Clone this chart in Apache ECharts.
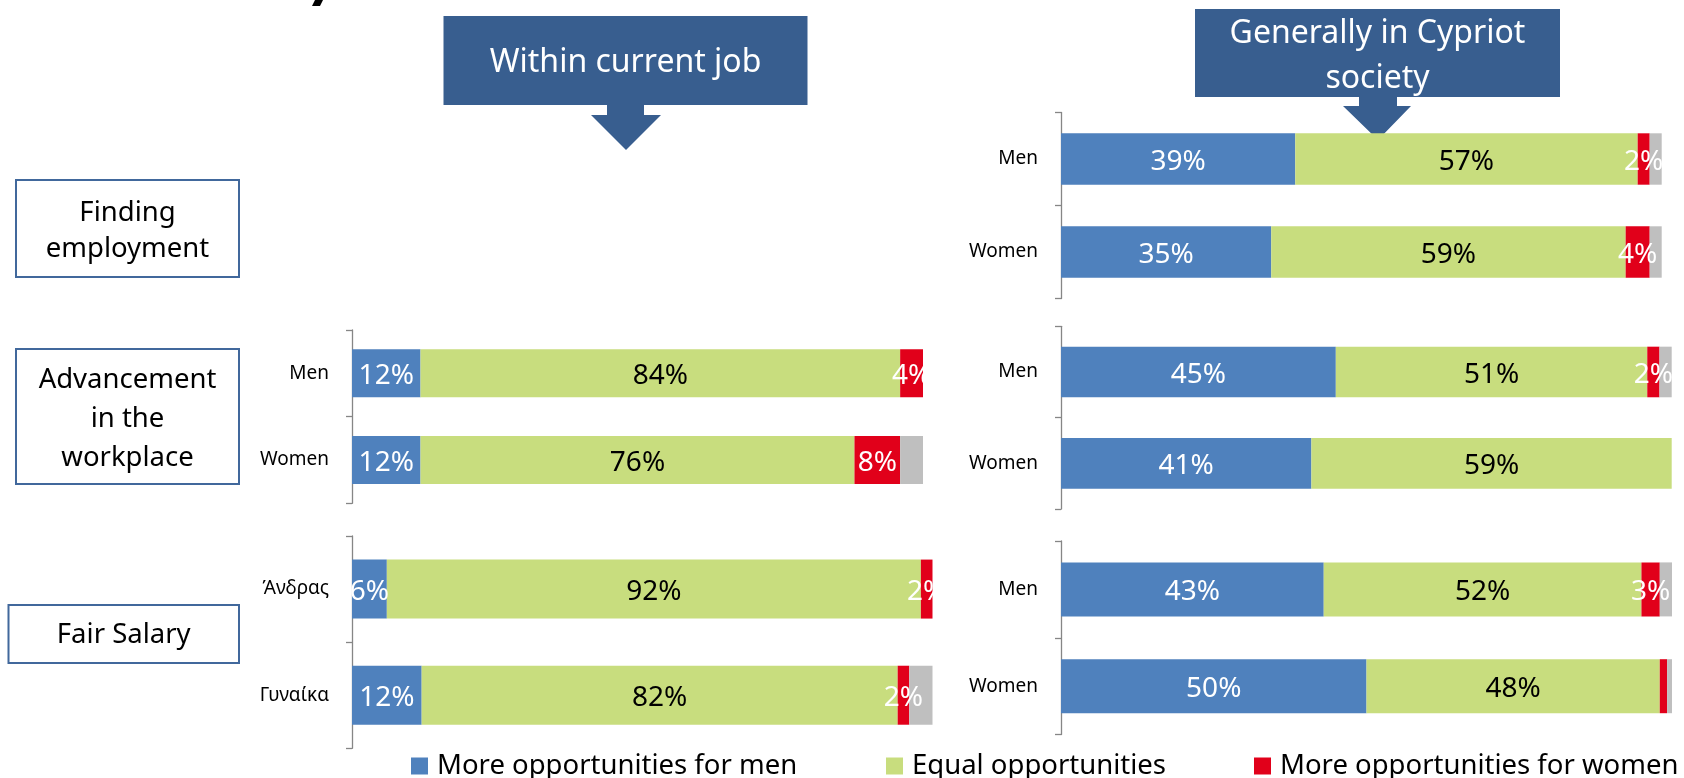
<!DOCTYPE html>
<html>
<head>
<meta charset="utf-8">
<script src="https://cdn.jsdelivr.net/npm/echarts@6/dist/echarts.min.js"></script>
<style>
  html, body { margin: 0; padding: 0; background: #fff; }
  #main { width: 1684px; height: 778px; }
</style>
</head>
<body>
<div id="main"></div>
<script>
    // categories
    const rowsEn = ['Men', 'Women'];
    const rowsGr = ['Άνδρας', 'Γυναίκα'];
    const seriesNames = ['More opportunities for men', 'Equal opportunities', 'More opportunities for women', "Don't know"];

    // within current job - advancement in the workplace
    const jobAdvMen = [12, 12];
    const jobAdvEqual = [84, 76];
    const jobAdvWomen = [4, 8];
    const jobAdvDk = [0, 4];
    // within current job - fair salary
    const jobPayMen = [6, 12];
    const jobPayEqual = [92, 82];
    const jobPayWomen = [2, 2];
    const jobPayDk = [0, 4];

    // generally in cypriot society - finding employment
    const socFindMen = [39, 35];
    const socFindEqual = [57, 59];
    const socFindWomen = [2, 4];
    const socFindDk = [2, 2];
    // generally in cypriot society - advancement
    const socAdvMen = [45, 41];
    const socAdvEqual = [51, 59];
    const socAdvWomen = [2, 0];
    const socAdvDk = [2, 0];
    // generally in cypriot society - fair salary
    const socPayMen = [43, 50];
    const socPayEqual = [52, 48];
    const socPayWomen = [3, 1.2];
    const socPayDk = [2, 0.8];

    const font = 'Noto Sans';
    const colors = ['#4F81BD', '#C8DD7E', '#E1001A', '#BFBFBF'];
    const axisGray = '#868686';
    const calloutBlue = '#385E8F';

    // one grid per small chart
    const grids = [
        {left: 352, top: 330, width: 571, height: 173.3},    // job advancement
        {left: 352, top: 536, width: 580.5, height: 212.3},  // job salary
        {left: 1061, top: 112.5, width: 600.7, height: 186}, // society finding
        {left: 1061, top: 326.3, width: 610.7, height: 182.7}, // society advancement
        {left: 1061, top: 541, width: 611, height: 193.6}    // society salary
    ];
    const gridCats = [rowsEn, rowsGr, rowsEn, rowsEn, rowsEn];
    const barWidths = [48, 59, 51.4, 50.6, 54];

    const stack = (idx, arrs) => {
        return arrs.map((d, k) => ({
            name: seriesNames[k],
            type: 'bar',
            stack: 'g' + idx,
            xAxisIndex: idx,
            yAxisIndex: idx,
            barWidth: barWidths[idx],
            silent: true,
            data: d,
            itemStyle: {color: colors[k]},
            label: {
                show: k < 3,
                position: 'inside',
                offset: [0, 3],
                fontFamily: font,
                fontSize: 28,
                color: k === 1 ? '#000' : '#fff',
                formatter: p => p.value >= 1.5 ? p.value + '%' : ''
            }
        }))
    }

    const series = [].concat(
        stack(0, [jobAdvMen, jobAdvEqual, jobAdvWomen, jobAdvDk]),
        stack(1, [jobPayMen, jobPayEqual, jobPayWomen, jobPayDk]),
        stack(2, [socFindMen, socFindEqual, socFindWomen, socFindDk]),
        stack(3, [socAdvMen, socAdvEqual, socAdvWomen, socAdvDk]),
        stack(4, [socPayMen, socPayEqual, socPayWomen, socPayDk])
    );

    const xAxis = grids.map((g, i) => ({
        type: 'value', gridIndex: i, min: 0, max: 100, show: false
    }));
    const yAxis = grids.map((g, i) => ({
        type: 'category',
        gridIndex: i,
        data: gridCats[i],
        inverse: true,
        axisLine: {show: true, lineStyle: {color: axisGray, width: 1.3}},
        axisTick: {show: true, alignWithLabel: false, length: 6, lineStyle: {color: axisGray, width: 1.3}},
        axisLabel: {margin: 23, fontFamily: font, fontSize: 19, color: '#000', padding: [7, 0, 0, 0]}
    }));

    const legendItem = (name, left) => ({
        data: [name],
        left: left,
        top: 752,
        padding: 0,
        icon: 'rect',
        itemWidth: 17,
        itemHeight: 17,
        selectedMode: false,
        textStyle: {fontFamily: font, fontSize: 27.5, color: '#000', padding: [0, 0, 0, 4]}
    });

    const boxStyle = {fill: '#fff', stroke: '#41689C', lineWidth: 2};
    const graphic = [
        // cut-off tail of the slide title, only the descender shows
        {type: 'polygon', shape: {points: [[315, 0], [323, 0], [320, 6], [312, 6]]}, style: {fill: '#000'}},
        // callout: within current job
        {type: 'rect', shape: {x: 443.5, y: 16, width: 364, height: 89}, style: {fill: calloutBlue}, z: 0},
        {type: 'polygon', shape: {points: [[607, 104], [644, 104], [644, 115], [661, 115], [626, 150], [591, 115], [607, 115]]},
            style: {fill: calloutBlue}, z: 0},
        {type: 'text', x: 625.6, y: 62.5, z: 1,
            style: {text: 'Within current job', fill: '#fff', font: '32px "Noto Sans"', align: 'center', verticalAlign: 'middle'}},
        // callout: generally in cypriot society
        {type: 'rect', shape: {x: 1195, y: 9, width: 365, height: 88}, style: {fill: calloutBlue}, z: 0},
        {type: 'polygon', shape: {points: [[1359, 96], [1397, 96], [1397, 106], [1411, 106], [1378, 140], [1343, 106], [1359, 106]]},
            style: {fill: calloutBlue}, z: 0},
        {type: 'text', x: 1377.5, y: 56, z: 1,
            style: {text: 'Generally in Cypriot\nsociety', fill: '#fff', font: '32px "Noto Sans"', align: 'center', verticalAlign: 'middle', lineHeight: 45}},
        // row labels on the left
        {type: 'rect', shape: {x: 16, y: 180, width: 223, height: 97}, style: boxStyle},
        {type: 'text', x: 127.5, y: 231, z: 1,
            style: {text: 'Finding\nemployment', fill: '#000', font: '27.5px "Noto Sans"', align: 'center', verticalAlign: 'middle', lineHeight: 36.6}},
        {type: 'rect', shape: {x: 16, y: 349, width: 223, height: 135}, style: boxStyle},
        {type: 'text', x: 127.5, y: 419, z: 1,
            style: {text: 'Advancement\nin the\nworkplace', fill: '#000', font: '27.5px "Noto Sans"', align: 'center', verticalAlign: 'middle', lineHeight: 39}},
        {type: 'rect', shape: {x: 8.5, y: 605, width: 230.5, height: 58}, style: boxStyle},
        {type: 'text', x: 123.7, y: 635, z: 1,
            style: {text: 'Fair Salary', fill: '#000', font: '27.5px "Noto Sans"', align: 'center', verticalAlign: 'middle'}}
    ];

    const myChart = echarts.init(document.getElementById('main'));
    myChart.setOption({
        animation: false,
        grid: grids,
        xAxis: xAxis,
        yAxis: yAxis,
        legend: [
            legendItem(seriesNames[0], 411),
            legendItem(seriesNames[1], 886),
            legendItem(seriesNames[2], 1254)
        ],
        graphic: graphic,
        series: series
    });
</script>
</body>
</html>
